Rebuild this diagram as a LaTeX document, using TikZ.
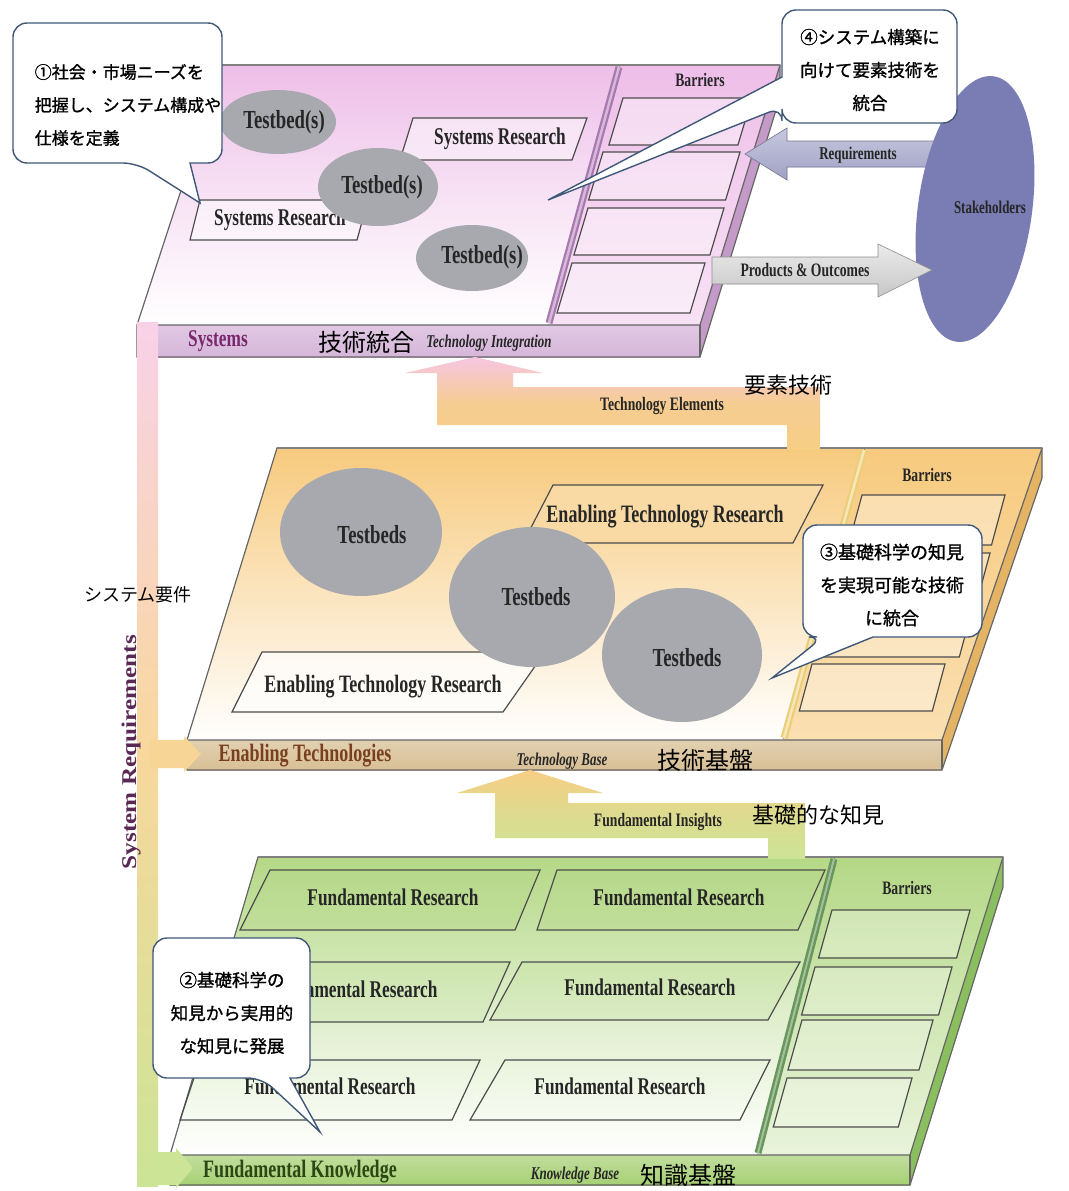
\documentclass[tikz,border=0pt]{standalone}
\usepackage{fontspec}
\setmainfont{Liberation Serif}
\newfontfamily\condser[FakeStretch=0.72]{Liberation Serif}
\newfontfamily\wideser[FakeStretch=1.2]{Liberation Serif}
\newfontfamily\jpsans{Noto Sans CJK JP}
\newfontfamily\jpheavy[FakeBold=1.2]{Noto Sans CJK JP}
\usetikzlibrary{shapes.geometric}
\newcommand\setfs[1]{\fontsize{#1}{#1}\selectfont}

\definecolor{pinkTop}{RGB}{238,190,232}
\definecolor{pinkBar}{RGB}{214,182,218}
\definecolor{pinkSide}{RGB}{196,154,200}
\definecolor{pinkDiv}{RGB}{170,120,176}
\definecolor{sysText}{RGB}{122,40,110}
\definecolor{orTop}{RGB}{247,202,126}
\definecolor{orBar}{RGB}{216,192,150}
\definecolor{orSide}{RGB}{228,180,100}
\definecolor{orDiv}{RGB}{236,206,120}
\definecolor{etText}{RGB}{120,64,32}
\definecolor{grTop}{RGB}{180,216,134}
\definecolor{grBar}{RGB}{166,208,116}
\definecolor{grSide}{RGB}{138,190,94}
\definecolor{grDiv}{RGB}{104,150,92}
\definecolor{fkText}{RGB}{44,70,20}
\definecolor{tbGray}{RGB}{168,169,174}
\definecolor{stake}{RGB}{122,124,180}
\definecolor{reqArrow}{RGB}{168,170,206}
\definecolor{calloutLine}{RGB}{64,88,120}
\definecolor{srText}{RGB}{90,40,84}
\definecolor{arPink}{RGB}{246,198,226}
\definecolor{arOrange}{RGB}{246,206,132}
\definecolor{arGreen}{RGB}{204,228,150}

\begin{document}
\begin{tikzpicture}[x=1pt,y=-1pt,
  edge/.style={draw=black!60, line width=1.2},
  topedge/.style={draw=black!50, line width=2.4},
  box/.style={draw=black!70, line width=1.2},
  tb/.style={ellipse, fill=tbGray, inner sep=0},
  lbl/.style={inner sep=0, text=black!85, font={\condser\bfseries\setfs{#1}}},
  ilbl/.style={inner sep=0, text=black!85, font={\condser\bfseries\itshape\setfs{#1}}},
  jlbl/.style={inner sep=0, text=black, font={\jpsans\setfs{#1}}},
  jcall/.style={inner sep=0, text=black, font={\jpheavy\fontsize{#1}{33}\selectfont}},
  callout/.style={draw=calloutLine, line width=1.4, fill=white},
]
\useasboundingbox (0,0) rectangle (1068,1191);
\fill[white] (0,0) rectangle (1068,1191);

% ================= Systems layer =================
\fill[top color=pinkTop, bottom color=white, middle color=pinkTop!45] (222,65) -- (620,65) -- (548,325) -- (137,325) -- cycle;
\fill[top color=pinkTop, bottom color=pinkTop!45] (620,65) -- (780,65) -- (700,325) -- (548,325) -- cycle;
\fill[pinkSide] (780,65) -- (700,325) -- (700,357) -- (780,97) -- cycle;
\fill[top color=pinkBar!75, bottom color=pinkBar] (137,325) rectangle (700,357);
\draw[edge] (137,325) -- (222,65) -- (780,65) -- (780,97) -- (700,357) -- (137,357) -- cycle;
\draw[edge] (137,325) -- (700,325) -- (780,65);
\draw[edge] (700,325) -- (700,357);
\draw[topedge] (222,65) -- (780,65);
\draw[pinkDiv, line width=7] (619,67) -- (549,323);
\draw[pinkDiv!50, line width=2.5] (619,67) -- (549,323);

% research boxes
\draw[box, fill=white, fill opacity=0.45] (413,118) -- (587,118) -- (572,160) -- (400,160) -- cycle;
\draw[box, fill=white, fill opacity=0.45] (200,200) -- (368,200) -- (357,240) -- (190,240) -- cycle;
\node[lbl=24] (sr1) at (500,139) {Systems Research};
\node[lbl=24] (sr2) at (280,220) {Systems Research};

% barrier boxes
\foreach \yt/\yb/\xl/\xr in {98/145/623/752, 152/200/603/740, 208/255/588/724, 263/313/572/705}
  \draw[box, fill=white, fill opacity=0.4] (\xl,\yt) -- (\xr,\yt) -- ({\xr-0.3*(\yb-\yt)},\yb) -- ({\xl-0.3*(\yb-\yt)},\yb) -- cycle;
\node[lbl=19] (bar1) at (700,80) {Barriers};

% testbeds
\node[tb, minimum width=116, minimum height=64] (tbA) at (278,122) {};
\node[tb, minimum width=120, minimum height=78] (tbB) at (378,187) {};
\node[tb, minimum width=112, minimum height=66] (tbC) at (472,258) {};
\node[lbl=26] (tbAt) at (284,122) {Testbed(s)};
\node[lbl=26] (tbBt) at (382,187) {Testbed(s)};
\node[lbl=26] (tbCt) at (482,257) {Testbed(s)};

% bar labels
\node[lbl=24, text=sysText] (sysl) at (218,341) {Systems};
\node[jlbl=24] (sysj) at (366,342) {技術統合};
\node[ilbl=18] (sysi) at (489,343) {Technology Integration};

% stakeholders and flows
\path[fill=reqArrow, top color=reqArrow!65!white, bottom color=reqArrow!95!black, draw=reqArrow!70!black, line width=0.6]
  (940,141) -- (787,141) -- (787,128) -- (745,154) -- (787,180) -- (787,167) -- (940,167) -- cycle;
\node[lbl=18] (req) at (858,155) {Requirements};
\node[ellipse, fill=stake, minimum width=114, minimum height=268, rotate=-8, inner sep=0] (stk) at (975,209) {};
\node[lbl=18] (stkl) at (990,207) {Stakeholders};
\path[top color=black!8, bottom color=black!22, draw=black!45, line width=0.6]
  (712,257) -- (878,257) -- (878,244) -- (932,270) -- (878,297) -- (878,284) -- (712,284) -- cycle;
\node[lbl=19] (prod) at (805,270) {Products \& Outcomes};

% ================= Enabling technologies layer =================
\fill[top color=orTop, bottom color=white, middle color=orTop!50] (277,448) -- (865,448) -- (783,740) -- (187,740) -- cycle;
\fill[top color=orTop, bottom color=orTop!60] (865,448) -- (1042,448) -- (942,740) -- (783,740) -- cycle;
\fill[orSide] (1042,448) -- (942,740) -- (942,770) -- (1042,478) -- cycle;
\fill[top color=orBar!75, bottom color=orBar] (187,740) rectangle (942,770);
\draw[edge] (187,740) -- (277,448) -- (1042,448) -- (1042,478) -- (942,770) -- (187,770) -- cycle;
\draw[edge] (187,740) -- (942,740) -- (1042,448);
\draw[edge] (942,740) -- (942,770);
\draw[topedge] (277,448) -- (1042,448);
\draw[orDiv, line width=7] (864,450) -- (784,738);
\draw[orDiv!50!white, line width=2.5] (864,450) -- (784,738);

\draw[box, fill=orTop!70] (553,485) -- (823,485) -- (793,543) -- (523,543) -- cycle;
\draw[box, fill=white, fill opacity=0.7] (262,652) -- (545,652) -- (503,712) -- (232,712) -- cycle;
\node[lbl=25] (etr1) at (665,517) {Enabling Technology Research};
\node[lbl=25] (etr2) at (383,687) {Enabling Technology Research};

\foreach \yt/\yb/\xl/\xr in {495/545/862/1005, 553/602/846/990, 610/657/830/972, 664/711/812/945}
  \draw[box, fill=white, fill opacity=0.35] (\xl,\yt) -- (\xr,\yt) -- ({\xr-0.27*(\yb-\yt)},\yb) -- ({\xl-0.27*(\yb-\yt)},\yb) -- cycle;
\node[lbl=19] (bar2) at (927,475) {Barriers};

\node[tb, minimum width=162, minimum height=128] (tbD) at (361,532) {};
\node[tb, minimum width=166, minimum height=140] (tbE) at (532,597) {};
\node[tb, minimum width=160, minimum height=134] (tbF) at (682,655) {};
\node[lbl=26] (tbDt) at (372,535) {Testbeds};
\node[lbl=26] (tbEt) at (536,597) {Testbeds};
\node[lbl=26] (tbFt) at (687,658) {Testbeds};

\node[lbl=25, text=etText] (etl) at (305,756) {Enabling Technologies};
\node[ilbl=18] (eti) at (562,761) {Technology Base};
\node[jlbl=24] (etj) at (705,760) {技術基盤};

% technology elements flow
\path[top color=arPink, bottom color=arOrange, middle color=arOrange!85!arPink]
  (820,450) -- (820,387) -- (513,387) -- (513,373) -- (543,373) -- (475,357) -- (405,373) -- (437,373) -- (437,425) -- (787,425) -- (787,450) -- cycle;
\node[lbl=19] (tel) at (662,406) {Technology Elements};
\node[jlbl=22] (tej) at (788,385) {要素技術};

% ================= Fundamental knowledge layer =================
\fill[top color=grTop, bottom color=white, middle color=grTop!45] (258,857) -- (835,857) -- (757,1155) -- (170,1155) -- cycle;
\fill[top color=grTop, bottom color=grTop!30] (835,857) -- (1003,857) -- (910,1155) -- (757,1155) -- cycle;
\fill[grSide] (1003,857) -- (910,1155) -- (910,1185) -- (1003,887) -- cycle;
\fill[top color=grBar!70, bottom color=grBar] (170,1155) rectangle (910,1185);
\draw[edge] (170,1155) -- (258,857) -- (1003,857) -- (1003,887) -- (910,1185) -- (170,1185) -- cycle;
\draw[edge] (170,1155) -- (910,1155) -- (1003,857);
\draw[edge] (910,1155) -- (910,1185);
\draw[topedge] (258,857) -- (1003,857);
\draw[grDiv, line width=7] (834,859) -- (758,1153);
\draw[grDiv!60!white, line width=2] (834,859) -- (758,1153);

\draw[box, fill=grTop, fill opacity=0.35] (270,870) -- (540,870) -- (515,930) -- (240,930) -- cycle;
\draw[box, fill=grTop, fill opacity=0.35] (557,870) -- (825,870) -- (798,930) -- (537,930) -- cycle;
\draw[box, fill=grTop, fill opacity=0.15] (238,962) -- (510,962) -- (483,1022) -- (212,1022) -- cycle;
\draw[box, fill=grTop, fill opacity=0.15] (522,962) -- (800,962) -- (768,1020) -- (490,1020) -- cycle;
\draw[box] (200,1060) -- (480,1060) -- (452,1120) -- (180,1120) -- cycle;
\draw[box] (505,1060) -- (770,1060) -- (740,1120) -- (470,1120) -- cycle;
\node[lbl=24] (fr1) at (393,897) {Fundamental Research};
\node[lbl=24] (fr2) at (679,897) {Fundamental Research};
\node[lbl=24] (fr3) at (352,989) {Fundamental Research};
\node[lbl=24] (fr4) at (650,987) {Fundamental Research};
\node[lbl=24] (fr5) at (330,1086) {Fundamental Research};
\node[lbl=24] (fr6) at (620,1086) {Fundamental Research};

\foreach \yt/\yb/\xl/\xr in {910/958/832/970, 967/1015/815/952, 1020/1070/802/933, 1078/1127/787/912}
  \draw[box, fill=white, fill opacity=0.3] (\xl,\yt) -- (\xr,\yt) -- ({\xr-0.28*(\yb-\yt)},\yb) -- ({\xl-0.28*(\yb-\yt)},\yb) -- cycle;
\node[lbl=19] (bar3) at (907,888) {Barriers};

\node[lbl=25, text=fkText] (fkl) at (300,1172) {Fundamental Knowledge};
\node[ilbl=18] (fki) at (575,1175) {Knowledge Base};
\node[jlbl=24] (fkj) at (688,1175) {知識基盤};

% fundamental insights flow
\path[top color=arOrange, bottom color=arGreen, middle color=arGreen!60!arOrange]
  (805,859) -- (805,803) -- (568,803) -- (568,793) -- (603,793) -- (530,770) -- (457,793) -- (495,793) -- (495,838) -- (768,838) -- (768,859) -- cycle;
\node[lbl=19] (fil) at (658,822) {Fundamental Insights};
\node[jlbl=22] (fij) at (818,815) {基礎的な知見};

% ================= system requirements feedback =================
\fill[top color=arPink!80, bottom color=arGreen, middle color=arOrange!80] (137,322) rectangle (158,1186);
\fill[arOrange!85] (150,740) -- (184,740) -- (184,736) -- (201,754) -- (184,772) -- (184,768) -- (150,768) -- cycle;
\fill[arGreen] (150,1152) -- (176,1152) -- (176,1148) -- (193,1168) -- (176,1188) -- (176,1185) -- (150,1185) -- cycle;
\node[inner sep=0, text=srText, font={\wideser\bfseries\setfs{21}}, rotate=90] (sreq) at (131,752) {System Requirements};
\node[jlbl=18] (sreqj) at (138,595) {システム要件};

% ================= callouts =================
\draw[callout] (190,163) [rounded corners=14] -- (222,163) -- (222,23) -- (13,23) -- (13,163) -- (137,163) [sharp corners] -- (200,203) -- cycle;
\node[jcall=17, align=left] (c1) at (128,105) {①社会・市場ニーズを\\把握し、システム構成や\\仕様を定義};

\draw[callout] (782,77) [rounded corners=14] -- (782,10) -- (957,10) -- (957,123) -- (782,123) -- (782,107) [sharp corners] -- (548,200) -- cycle;
\node[jcall=17.5, align=center] (c4) at (870,70) {④システム構築に\\向けて要素技術を\\統合};

\draw[callout] (873,637) [rounded corners=14] -- (982,637) -- (982,525) -- (803,525) -- (803,637) -- (823,637) [sharp corners] -- (772,678) -- cycle;
\node[jcall=18, align=center] (c3) at (892,585) {③基礎科学の知見\\を実現可能な技術\\に統合};

\draw[callout] (290,1078) [rounded corners=14] -- (310,1078) -- (310,938) -- (153,938) -- (153,1078) -- (262,1078) [sharp corners] -- (320,1132) -- cycle;
\node[jcall=17.5, align=center] (c2) at (232,1013) {②基礎科学の\\知見から実用的\\な知見に発展};
\end{tikzpicture}
\end{document}
